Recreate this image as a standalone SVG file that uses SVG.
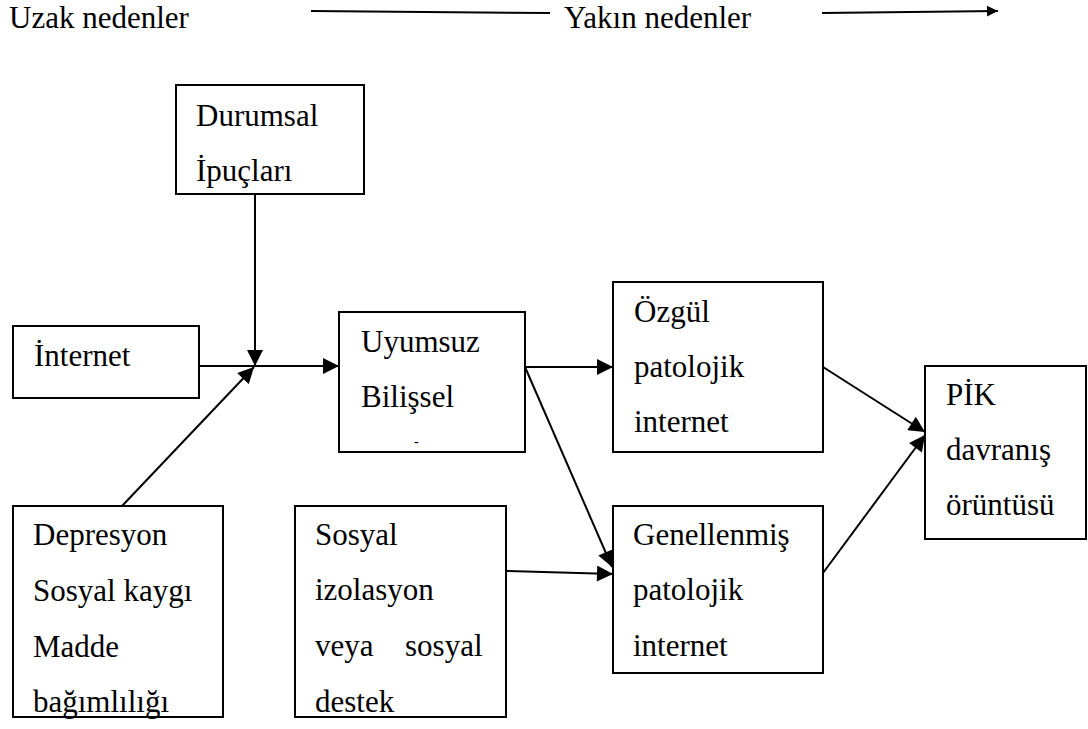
<svg xmlns="http://www.w3.org/2000/svg" width="1088" height="729" viewBox="0 0 1088 729">
<style>
text{font-family:"Liberation Serif","Times New Roman",serif;font-size:31px;fill:#000}
.box{fill:#fff;stroke:#000;stroke-width:2}
.c{fill:none;stroke:#000;stroke-width:2}
</style>
<defs>
<marker id="ah" viewBox="0 0 10 10" refX="10" refY="5" markerWidth="9" markerHeight="8" markerUnits="strokeWidth" orient="auto">
<path d="M0,0 L10,5 L0,10 z" fill="#000"/>
</marker>
<marker id="ah3" viewBox="0 0 10 10" refX="10" refY="5" markerWidth="6" markerHeight="5.5" markerUnits="strokeWidth" orient="auto">
<path d="M0,0 L10,5 L0,10 z" fill="#000"/>
</marker>
</defs>
<rect width="1088" height="729" fill="#fff"/>
<g id="header">
<text x="9" y="28">Uzak nedenler</text>
<text x="564" y="28">Yakın nedenler</text>
</g>
<g id="connectors">
<line class="c" x1="311" y1="11" x2="550" y2="13"/>
<line class="c" x1="822" y1="13" x2="998" y2="11" stroke-width="3" marker-end="url(#ah3)"/>
<line class="c" x1="255" y1="194" x2="255" y2="366" marker-end="url(#ah)"/>
<line class="c" x1="122" y1="506" x2="254" y2="367" marker-end="url(#ah)"/>
<line class="c" x1="199" y1="366" x2="339" y2="366" marker-end="url(#ah)"/>
<line class="c" x1="525" y1="367" x2="613" y2="367" marker-end="url(#ah)"/>
<line class="c" x1="525" y1="367" x2="612" y2="567" marker-end="url(#ah)"/>
<line class="c" x1="506" y1="571" x2="613" y2="574" marker-end="url(#ah)"/>
<line class="c" x1="823" y1="367" x2="925" y2="432" marker-end="url(#ah)"/>
<line class="c" x1="823" y1="573" x2="925" y2="435" marker-end="url(#ah)"/>
</g>
<g id="durumsal">
<rect class="box" x="176" y="85" width="188" height="109"/>
<text x="196" y="126">Durumsal</text>
<text x="196" y="181">İpuçları</text>
</g>
<g id="internet">
<rect class="box" x="13" y="326" width="186" height="72"/>
<text x="34" y="366">İnternet</text>
</g>
<g id="uyumsuz">
<rect class="box" x="339" y="312" width="186" height="140"/>
<text x="361" y="352">Uyumsuz</text>
<text x="361" y="407">Bilişsel</text>
<text x="414" y="446" style="font-size:14px">-</text>
</g>
<g id="ozgul">
<rect class="box" x="613" y="282" width="210" height="170"/>
<text x="634" y="322">Özgül</text>
<text x="634" y="377">patolojik</text>
<text x="634" y="432">internet</text>
</g>
<g id="pik">
<rect class="box" x="925" y="366" width="161" height="173"/>
<text x="946" y="405">PİK</text>
<text x="946" y="460">davranış</text>
<text x="946" y="515">örüntüsü</text>
</g>
<g id="depresyon">
<rect class="box" x="13" y="506" width="210" height="211"/>
<text x="33" y="545">Depresyon</text>
<text x="33" y="601">Sosyal kaygı</text>
<text x="33" y="657">Madde</text>
<text x="33" y="712">bağımlılığı</text>
</g>
<g id="sosyal">
<rect class="box" x="295" y="506" width="211" height="211"/>
<text x="315" y="545">Sosyal</text>
<text x="315" y="600">izolasyon</text>
<text x="315" y="656">veya</text>
<text x="405" y="656">sosyal</text>
<text x="315" y="712">destek</text>
</g>
<g id="genellenmis">
<rect class="box" x="613" y="506" width="210" height="167"/>
<text x="633" y="545">Genellenmiş</text>
<text x="633" y="600">patolojik</text>
<text x="633" y="656">internet</text>
</g>
</svg>
